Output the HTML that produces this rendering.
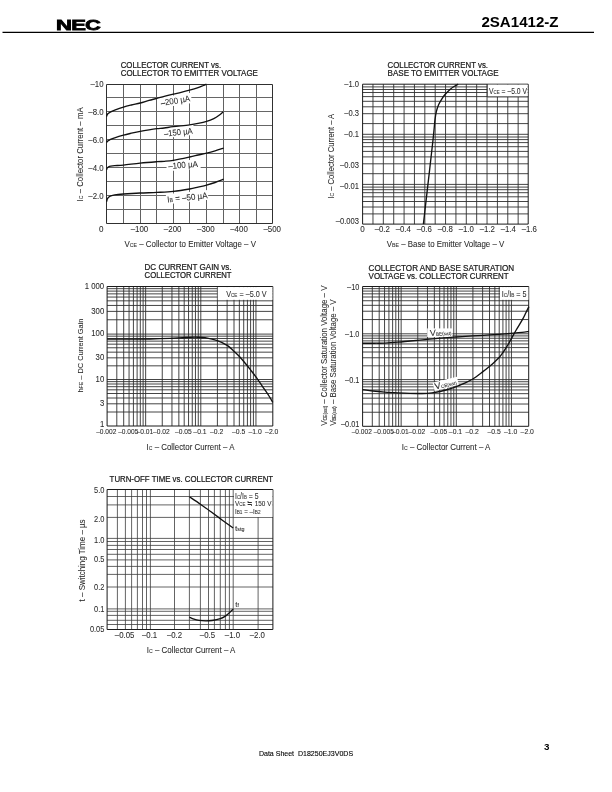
<!DOCTYPE html>
<html lang="en"><head><meta charset="utf-8"><title>2SA1412-Z Data Sheet</title>
<style>html,body{margin:0;padding:0;background:#fff}body{width:612px;height:792px;overflow:hidden;position:relative}svg{display:block;position:absolute;left:0;top:0}text{font-family:"Liberation Sans",sans-serif;white-space:pre}</style>
</head><body>
<svg width="612" height="792" viewBox="0 0 612 792">
<rect width="612" height="792" fill="#fff"/>
<text transform="translate(56.1,29.7) scale(1.47,1)" font-size="15" letter-spacing="-0.55" font-weight="bold" fill="#000" stroke="#000" stroke-width="0.75" stroke-linejoin="miter">NEC</text>
<text x="481.4" y="27" font-size="15" textLength="77.2" lengthAdjust="spacingAndGlyphs" font-weight="bold" fill="#000">2SA1412-Z</text>
<path d="M2.5 32.4H594" stroke="#000" stroke-width="1.1"/>
<text x="258.9" y="756" font-size="6.6" textLength="94.2" lengthAdjust="spacingAndGlyphs" fill="#000" stroke="#000" stroke-width="0.1">Data Sheet  D18250EJ3V0DS</text>
<text x="544.0" y="750" font-size="9.8" font-weight="bold" fill="#000">3</text>
<path d="M123.50 84.10V223.70M140.50 84.10V223.70M156.50 84.10V223.70M173.50 84.10V223.70M189.50 84.10V223.70M206.50 84.10V223.70M223.50 84.10V223.70M239.50 84.10V223.70M256.50 84.10V223.70" stroke="#444444" stroke-width="0.85" fill="none"/>
<path d="M106.90 97.50H272.80M106.90 111.50H272.80M106.90 125.50H272.80M106.90 139.50H272.80M106.90 153.50H272.80M106.90 167.50H272.80M106.90 181.50H272.80M106.90 195.50H272.80M106.90 209.50H272.80" stroke="#666666" stroke-width="1.15" fill="none"/>
<path d="M106.50 84.50H272.50V223.50H106.50Z" fill="none" stroke="#303030" stroke-width="1.0"/>
<text x="120.7" y="68" font-size="8.4" textLength="100.4" lengthAdjust="spacingAndGlyphs" fill="#1a1a1a" stroke="#1a1a1a" stroke-width="0.22">COLLECTOR CURRENT vs.</text>
<text x="120.7" y="76" font-size="8.4" textLength="137.2" lengthAdjust="spacingAndGlyphs" fill="#1a1a1a" stroke="#1a1a1a" stroke-width="0.22">COLLECTOR TO EMITTER VOLTAGE</text>
<text x="103.6" y="87" font-size="8.4" text-anchor="end" textLength="13.08" lengthAdjust="spacingAndGlyphs" fill="#2b2b2b" stroke="#2b2b2b" stroke-width="0.07">–10</text>
<text x="103.6" y="115" font-size="8.4" text-anchor="end" textLength="15.26" lengthAdjust="spacingAndGlyphs" fill="#2b2b2b" stroke="#2b2b2b" stroke-width="0.07">–8.0</text>
<text x="103.6" y="143" font-size="8.4" text-anchor="end" textLength="15.26" lengthAdjust="spacingAndGlyphs" fill="#2b2b2b" stroke="#2b2b2b" stroke-width="0.07">–6.0</text>
<text x="103.6" y="171" font-size="8.4" text-anchor="end" textLength="15.26" lengthAdjust="spacingAndGlyphs" fill="#2b2b2b" stroke="#2b2b2b" stroke-width="0.07">–4.0</text>
<text x="103.6" y="199" font-size="8.4" text-anchor="end" textLength="15.26" lengthAdjust="spacingAndGlyphs" fill="#2b2b2b" stroke="#2b2b2b" stroke-width="0.07">–2.0</text>
<text x="103.4" y="232" font-size="8.4" text-anchor="end" textLength="4.5" lengthAdjust="spacingAndGlyphs" fill="#2b2b2b" stroke="#2b2b2b" stroke-width="0.07">0</text>
<text x="139.48000000000002" y="232" font-size="8.4" text-anchor="middle" textLength="17.62" lengthAdjust="spacingAndGlyphs" fill="#2b2b2b" stroke="#2b2b2b" stroke-width="0.07">–100</text>
<text x="172.66" y="232" font-size="8.4" text-anchor="middle" textLength="17.62" lengthAdjust="spacingAndGlyphs" fill="#2b2b2b" stroke="#2b2b2b" stroke-width="0.07">–200</text>
<text x="205.84" y="232" font-size="8.4" text-anchor="middle" textLength="17.62" lengthAdjust="spacingAndGlyphs" fill="#2b2b2b" stroke="#2b2b2b" stroke-width="0.07">–300</text>
<text x="239.02" y="232" font-size="8.4" text-anchor="middle" textLength="17.62" lengthAdjust="spacingAndGlyphs" fill="#2b2b2b" stroke="#2b2b2b" stroke-width="0.07">–400</text>
<text x="272.2" y="232" font-size="8.4" text-anchor="middle" textLength="17.62" lengthAdjust="spacingAndGlyphs" fill="#2b2b2b" stroke="#2b2b2b" stroke-width="0.07">–500</text>
<text x="124.5" y="247" font-size="8.2" textLength="131.5" lengthAdjust="spacingAndGlyphs" fill="#2b2b2b" stroke="#2b2b2b" stroke-width="0.07">V<tspan font-size="5.4">CE</tspan> – Collector to Emitter Voltage – V</text>
<text x="83.4" y="201.4" font-size="8.2" textLength="94" lengthAdjust="spacingAndGlyphs" transform="rotate(-90 83.4 201.4)" fill="#2b2b2b" stroke="#2b2b2b" stroke-width="0.07">I<tspan font-size="5.4">C</tspan> – Collector Current – mA</text>
<rect x="160.00" y="95.20" width="31.60" height="10.40" fill="#fff" transform="rotate(-9 175.6 100.6)"/>
<rect x="163.00" y="126.00" width="31.00" height="10.60" fill="#fff" transform="rotate(-6.4 178.4 131.4)"/>
<rect x="166.40" y="160.40" width="34.00" height="9.60" fill="#fff" transform="rotate(-4.2 183.1 165.0)"/>
<rect x="166.20" y="192.00" width="42.00" height="10.00" fill="#fff" transform="rotate(-6 187.6 197.2)"/>
<path d="M106.60 116.40C106.77 116.00 107.07 114.68 107.60 114.00C108.13 113.32 108.62 112.93 109.80 112.30C110.98 111.67 112.42 111.07 114.70 110.20C116.98 109.33 120.72 107.97 123.50 107.10C126.28 106.23 128.62 105.68 131.40 105.00C134.18 104.32 137.27 103.77 140.20 103.00C143.13 102.23 146.22 101.17 149.00 100.40C151.78 99.63 154.37 99.08 156.90 98.40C159.43 97.72 161.47 97.02 164.20 96.30C166.93 95.58 170.48 94.75 173.30 94.10C176.12 93.45 178.38 93.05 181.10 92.40C183.82 91.75 186.77 91.00 189.60 90.20C192.43 89.40 195.80 88.38 198.10 87.60C200.40 86.82 202.02 86.07 203.40 85.50C204.78 84.93 205.90 84.42 206.40 84.20" stroke="#111" stroke-width="1.35" fill="none" stroke-linecap="butt" stroke-linejoin="round"/>
<path d="M106.60 142.40C106.80 142.17 107.27 141.43 107.80 141.00C108.33 140.57 108.65 140.33 109.80 139.80C110.95 139.27 112.42 138.58 114.70 137.80C116.98 137.02 120.72 135.87 123.50 135.10C126.28 134.33 128.62 133.83 131.40 133.20C134.18 132.57 137.27 131.87 140.20 131.30C143.13 130.73 146.22 130.23 149.00 129.80C151.78 129.37 154.37 129.00 156.90 128.70C159.43 128.40 161.47 128.33 164.20 128.00C166.93 127.67 169.07 127.23 173.30 126.70C177.53 126.17 185.47 125.35 189.60 124.80C193.73 124.25 195.27 123.97 198.10 123.40C200.93 122.83 203.98 122.20 206.60 121.40C209.22 120.60 211.72 119.62 213.80 118.60C215.88 117.58 217.53 116.43 219.10 115.30C220.67 114.17 222.52 112.38 223.20 111.80" stroke="#111" stroke-width="1.35" fill="none" stroke-linecap="butt" stroke-linejoin="round"/>
<path d="M106.60 169.80C106.70 169.50 106.87 168.50 107.20 168.00C107.53 167.50 108.00 167.12 108.60 166.80C109.20 166.48 109.78 166.30 110.80 166.10C111.82 165.90 112.58 165.77 114.70 165.60C116.82 165.43 119.25 165.52 123.50 165.10C127.75 164.68 134.63 163.67 140.20 163.10C145.77 162.53 152.90 162.00 156.90 161.70C160.90 161.40 161.47 161.53 164.20 161.30C166.93 161.07 169.07 161.02 173.30 160.30C177.53 159.58 185.47 157.88 189.60 157.00C193.73 156.12 195.27 155.65 198.10 155.00C200.93 154.35 203.77 153.80 206.60 153.10C209.43 152.40 212.27 151.63 215.10 150.80C217.93 149.97 222.18 148.55 223.60 148.10" stroke="#111" stroke-width="1.35" fill="none" stroke-linecap="butt" stroke-linejoin="round"/>
<path d="M106.60 201.60C106.72 201.17 106.97 199.73 107.30 199.00C107.63 198.27 108.02 197.73 108.60 197.20C109.18 196.67 109.78 196.20 110.80 195.80C111.82 195.40 112.58 195.10 114.70 194.80C116.82 194.50 119.25 194.30 123.50 194.00C127.75 193.70 134.63 193.27 140.20 193.00C145.77 192.73 151.38 192.67 156.90 192.40C162.42 192.13 167.85 191.97 173.30 191.40C178.75 190.83 185.47 189.72 189.60 189.00C193.73 188.28 195.27 187.75 198.10 187.10C200.93 186.45 203.77 185.87 206.60 185.10C209.43 184.33 212.27 183.48 215.10 182.50C217.93 181.52 222.18 179.75 223.60 179.20" stroke="#111" stroke-width="1.35" fill="none" stroke-linecap="butt" stroke-linejoin="round"/>
<text x="161.2" y="106.0" font-size="8.6" textLength="29.6" lengthAdjust="spacingAndGlyphs" transform="rotate(-9.2 161.2 106.0)" fill="#2b2b2b" stroke="#2b2b2b" stroke-width="0.07">–200 µA</text>
<text x="164.2" y="136.8" font-size="8.6" textLength="29.0" lengthAdjust="spacingAndGlyphs" transform="rotate(-6.4 164.2 136.8)" fill="#2b2b2b" stroke="#2b2b2b" stroke-width="0.07">–150 µA</text>
<text x="168.4" y="169.0" font-size="8.6" textLength="29.8" lengthAdjust="spacingAndGlyphs" transform="rotate(-4.2 168.4 169.0)" fill="#2b2b2b" stroke="#2b2b2b" stroke-width="0.07">–100 µA</text>
<text x="167.6" y="202.4" font-size="8.6" textLength="40.4" lengthAdjust="spacingAndGlyphs" transform="rotate(-6 167.6 202.4)" fill="#2b2b2b" stroke="#2b2b2b" stroke-width="0.07">I<tspan font-size="5.6">B</tspan> = –50 µA</text>
<path d="M372.97 84.20V224.10M383.34 84.20V224.10M393.71 84.20V224.10M404.08 84.20V224.10M414.45 84.20V224.10M424.82 84.20V224.10M435.19 84.20V224.10M445.56 84.20V224.10M455.93 84.20V224.10M466.30 84.20V224.10M476.67 84.20V224.10M487.04 84.20V224.10M497.41 84.20V224.10M507.78 84.20V224.10M518.15 84.20V224.10" stroke="#303030" stroke-width="0.9" fill="none"/>
<path d="M362.60 86.90H528.20M362.60 89.50H528.20M362.60 92.50H528.20M362.60 96.60H528.20M362.60 101.30H528.20M362.60 106.80H528.20M362.60 113.70H528.20M362.60 123.60H528.20M362.60 134.30H528.20M362.60 137.00H528.20M362.60 139.60H528.20M362.60 142.60H528.20M362.60 146.70H528.20M362.60 151.40H528.20M362.60 156.90H528.20M362.60 163.80H528.20M362.60 173.70H528.20M362.60 184.40H528.20M362.60 187.10H528.20M362.60 189.70H528.20M362.60 192.70H528.20M362.60 196.80H528.20M362.60 201.50H528.20M362.60 207.00H528.20M362.60 213.90H528.20" stroke="#303030" stroke-width="0.9" fill="none"/>
<path d="M362.60 84.20H528.20V224.10H362.60Z" fill="none" stroke="#1a1a1a" stroke-width="1.0"/>
<text x="387.6" y="68" font-size="8.4" textLength="100.4" lengthAdjust="spacingAndGlyphs" fill="#1a1a1a" stroke="#1a1a1a" stroke-width="0.22">COLLECTOR CURRENT vs.</text>
<text x="387.6" y="76" font-size="8.4" textLength="111" lengthAdjust="spacingAndGlyphs" fill="#1a1a1a" stroke="#1a1a1a" stroke-width="0.22">BASE TO EMITTER VOLTAGE</text>
<text x="359.0" y="87" font-size="8.4" text-anchor="end" textLength="14.79" lengthAdjust="spacingAndGlyphs" fill="#2b2b2b" stroke="#2b2b2b" stroke-width="0.07">–1.0</text>
<text x="359.0" y="116" font-size="8.4" text-anchor="end" textLength="14.79" lengthAdjust="spacingAndGlyphs" fill="#2b2b2b" stroke="#2b2b2b" stroke-width="0.07">–0.3</text>
<text x="359.0" y="137" font-size="8.4" text-anchor="end" textLength="14.79" lengthAdjust="spacingAndGlyphs" fill="#2b2b2b" stroke="#2b2b2b" stroke-width="0.07">–0.1</text>
<text x="359.0" y="168" font-size="8.4" text-anchor="end" textLength="19.02" lengthAdjust="spacingAndGlyphs" fill="#2b2b2b" stroke="#2b2b2b" stroke-width="0.07">–0.03</text>
<text x="359.0" y="189" font-size="8.4" text-anchor="end" textLength="19.02" lengthAdjust="spacingAndGlyphs" fill="#2b2b2b" stroke="#2b2b2b" stroke-width="0.07">–0.01</text>
<text x="359.0" y="224" font-size="8.4" text-anchor="end" textLength="23.25" lengthAdjust="spacingAndGlyphs" fill="#2b2b2b" stroke="#2b2b2b" stroke-width="0.07">–0.003</text>
<text x="362.4" y="232" font-size="8.4" text-anchor="middle" textLength="4.5" lengthAdjust="spacingAndGlyphs" fill="#2b2b2b" stroke="#2b2b2b" stroke-width="0.07">0</text>
<text x="382.3" y="232" font-size="8.4" text-anchor="middle" textLength="15.26" lengthAdjust="spacingAndGlyphs" fill="#2b2b2b" stroke="#2b2b2b" stroke-width="0.07">–0.2</text>
<text x="403.3" y="232" font-size="8.4" text-anchor="middle" textLength="15.26" lengthAdjust="spacingAndGlyphs" fill="#2b2b2b" stroke="#2b2b2b" stroke-width="0.07">–0.4</text>
<text x="424.30000000000007" y="232" font-size="8.4" text-anchor="middle" textLength="15.26" lengthAdjust="spacingAndGlyphs" fill="#2b2b2b" stroke="#2b2b2b" stroke-width="0.07">–0.6</text>
<text x="445.3" y="232" font-size="8.4" text-anchor="middle" textLength="15.26" lengthAdjust="spacingAndGlyphs" fill="#2b2b2b" stroke="#2b2b2b" stroke-width="0.07">–0.8</text>
<text x="466.3" y="232" font-size="8.4" text-anchor="middle" textLength="15.26" lengthAdjust="spacingAndGlyphs" fill="#2b2b2b" stroke="#2b2b2b" stroke-width="0.07">–1.0</text>
<text x="487.30000000000007" y="232" font-size="8.4" text-anchor="middle" textLength="15.26" lengthAdjust="spacingAndGlyphs" fill="#2b2b2b" stroke="#2b2b2b" stroke-width="0.07">–1.2</text>
<text x="508.30000000000007" y="232" font-size="8.4" text-anchor="middle" textLength="15.26" lengthAdjust="spacingAndGlyphs" fill="#2b2b2b" stroke="#2b2b2b" stroke-width="0.07">–1.4</text>
<text x="529.3000000000001" y="232" font-size="8.4" text-anchor="middle" textLength="15.26" lengthAdjust="spacingAndGlyphs" fill="#2b2b2b" stroke="#2b2b2b" stroke-width="0.07">–1.6</text>
<text x="386.8" y="247" font-size="8.2" textLength="117.5" lengthAdjust="spacingAndGlyphs" fill="#2b2b2b" stroke="#2b2b2b" stroke-width="0.07">V<tspan font-size="5.4">BE</tspan> – Base to Emitter Voltage – V</text>
<text x="333.8" y="198.6" font-size="8.2" textLength="84.8" lengthAdjust="spacingAndGlyphs" transform="rotate(-90 333.8 198.6)" fill="#2b2b2b" stroke="#2b2b2b" stroke-width="0.07">I<tspan font-size="5.4">C</tspan> – Collector Current – A</text>
<rect x="487.30" y="84.70" width="40.30" height="12.00" fill="#fff"/>
<path d="M487.3 84.2V96.9H528" stroke="#222" stroke-width="0.8" fill="none"/>
<text x="489.0" y="94" font-size="8.6" textLength="38" lengthAdjust="spacingAndGlyphs" fill="#2b2b2b" stroke="#2b2b2b" stroke-width="0.07">V<tspan font-size="5.6">CE</tspan> = –5.0 V</text>
<path d="M423.40 224.10C423.67 221.75 423.97 219.02 425.00 210.00C426.03 200.98 428.27 181.67 429.60 170.00C430.93 158.33 432.23 147.00 433.00 140.00C433.77 133.00 433.87 131.40 434.20 128.00C434.53 124.60 434.63 122.37 435.00 119.60C435.37 116.83 435.78 113.90 436.40 111.40C437.02 108.90 437.83 106.62 438.70 104.60C439.57 102.58 440.52 101.02 441.60 99.30C442.68 97.58 443.75 95.98 445.20 94.30C446.65 92.62 448.83 90.50 450.30 89.20C451.77 87.90 452.68 87.33 454.00 86.50C455.32 85.67 457.50 84.58 458.20 84.20" stroke="#111" stroke-width="1.35" fill="none" stroke-linecap="butt" stroke-linejoin="round"/>
<path d="M116.81 286.50V426.00M123.70 286.50V426.00M129.05 286.50V426.00M133.41 286.50V426.00M137.11 286.50V426.00M140.30 286.50V426.00M143.12 286.50V426.00M145.65 286.50V426.00M162.25 286.50V426.00M171.96 286.50V426.00M178.85 286.50V426.00M184.20 286.50V426.00M188.56 286.50V426.00M192.26 286.50V426.00M195.45 286.50V426.00M198.27 286.50V426.00M200.80 286.50V426.00M217.40 286.50V426.00M227.11 286.50V426.00M234.00 286.50V426.00M239.35 286.50V426.00M243.71 286.50V426.00M247.41 286.50V426.00M250.60 286.50V426.00M253.42 286.50V426.00M255.95 286.50V426.00" stroke="#303030" stroke-width="0.9" fill="none"/>
<path d="M107.10 412.00H272.80M107.10 403.81H272.80M107.10 398.00H272.80M107.10 393.50H272.80M107.10 389.82H272.80M107.10 386.70H272.80M107.10 384.01H272.80M107.10 381.63H272.80M107.10 379.50H272.80M107.10 365.83H272.80M107.10 357.84H272.80M107.10 352.17H272.80M107.10 347.77H272.80M107.10 344.17H272.80M107.10 341.13H272.80M107.10 338.50H272.80M107.10 336.18H272.80M107.10 334.10H272.80M107.10 319.77H272.80M107.10 311.39H272.80M107.10 305.44H272.80M107.10 300.83H272.80M107.10 297.06H272.80M107.10 293.87H272.80M107.10 291.11H272.80M107.10 288.68H272.80" stroke="#303030" stroke-width="0.9" fill="none"/>
<path d="M107.10 286.50H272.80V426.00H107.10Z" fill="none" stroke="#1a1a1a" stroke-width="1.0"/>
<text x="144.6" y="270" font-size="8.4" textLength="87" lengthAdjust="spacingAndGlyphs" fill="#1a1a1a" stroke="#1a1a1a" stroke-width="0.22">DC CURRENT GAIN vs.</text>
<text x="144.6" y="278" font-size="8.4" textLength="87" lengthAdjust="spacingAndGlyphs" fill="#1a1a1a" stroke="#1a1a1a" stroke-width="0.22">COLLECTOR CURRENT</text>
<text x="104.2" y="289" font-size="8.6" text-anchor="end" textLength="19.42" lengthAdjust="spacingAndGlyphs" fill="#2b2b2b" stroke="#2b2b2b" stroke-width="0.07">1 000</text>
<text x="104.2" y="314" font-size="8.6" text-anchor="end" textLength="12.95" lengthAdjust="spacingAndGlyphs" fill="#2b2b2b" stroke="#2b2b2b" stroke-width="0.07">300</text>
<text x="104.2" y="336" font-size="8.6" text-anchor="end" textLength="12.95" lengthAdjust="spacingAndGlyphs" fill="#2b2b2b" stroke="#2b2b2b" stroke-width="0.07">100</text>
<text x="104.2" y="360" font-size="8.6" text-anchor="end" textLength="8.63" lengthAdjust="spacingAndGlyphs" fill="#2b2b2b" stroke="#2b2b2b" stroke-width="0.07">30</text>
<text x="104.2" y="382" font-size="8.6" text-anchor="end" textLength="8.63" lengthAdjust="spacingAndGlyphs" fill="#2b2b2b" stroke="#2b2b2b" stroke-width="0.07">10</text>
<text x="104.2" y="406" font-size="8.6" text-anchor="end" textLength="4.32" lengthAdjust="spacingAndGlyphs" fill="#2b2b2b" stroke="#2b2b2b" stroke-width="0.07">3</text>
<text x="104.2" y="427" font-size="8.6" text-anchor="end" textLength="4.32" lengthAdjust="spacingAndGlyphs" fill="#2b2b2b" stroke="#2b2b2b" stroke-width="0.07">1</text>
<text x="106.3" y="434" font-size="7.9" text-anchor="middle" textLength="20.200000000000003" lengthAdjust="spacingAndGlyphs" fill="#2b2b2b" stroke="#2b2b2b" stroke-width="0.08">–0.002</text>
<text x="128.24639147826286" y="434" font-size="7.9" text-anchor="middle" textLength="20.200000000000003" lengthAdjust="spacingAndGlyphs" fill="#2b2b2b" stroke="#2b2b2b" stroke-width="0.08">–0.005</text>
<text x="144.84819573913143" y="434" font-size="7.9" text-anchor="middle" textLength="16.75" lengthAdjust="spacingAndGlyphs" fill="#2b2b2b" stroke="#2b2b2b" stroke-width="0.08">–0.01</text>
<text x="161.45" y="434" font-size="7.9" text-anchor="middle" textLength="16.75" lengthAdjust="spacingAndGlyphs" fill="#2b2b2b" stroke="#2b2b2b" stroke-width="0.08">–0.02</text>
<text x="183.39639147826284" y="434" font-size="7.9" text-anchor="middle" textLength="16.75" lengthAdjust="spacingAndGlyphs" fill="#2b2b2b" stroke="#2b2b2b" stroke-width="0.08">–0.05</text>
<text x="199.9981957391314" y="434" font-size="7.9" text-anchor="middle" textLength="13.3" lengthAdjust="spacingAndGlyphs" fill="#2b2b2b" stroke="#2b2b2b" stroke-width="0.08">–0.1</text>
<text x="216.59999999999997" y="434" font-size="7.9" text-anchor="middle" textLength="13.3" lengthAdjust="spacingAndGlyphs" fill="#2b2b2b" stroke="#2b2b2b" stroke-width="0.08">–0.2</text>
<text x="238.54639147826285" y="434" font-size="7.9" text-anchor="middle" textLength="13.3" lengthAdjust="spacingAndGlyphs" fill="#2b2b2b" stroke="#2b2b2b" stroke-width="0.08">–0.5</text>
<text x="255.1481957391314" y="434" font-size="7.9" text-anchor="middle" textLength="13.3" lengthAdjust="spacingAndGlyphs" fill="#2b2b2b" stroke="#2b2b2b" stroke-width="0.08">–1.0</text>
<text x="271.74999999999994" y="434" font-size="7.9" text-anchor="middle" textLength="13.3" lengthAdjust="spacingAndGlyphs" fill="#2b2b2b" stroke="#2b2b2b" stroke-width="0.08">–2.0</text>
<text x="146.6" y="450" font-size="8.4" textLength="87.8" lengthAdjust="spacingAndGlyphs" fill="#2b2b2b" stroke="#2b2b2b" stroke-width="0.07">I<tspan font-size="5.4">C</tspan> – Collector Current – A</text>
<text x="83.5" y="392.6" font-size="7.6" textLength="74" lengthAdjust="spacingAndGlyphs" transform="rotate(-90 83.5 392.6)" fill="#2b2b2b" stroke="#2b2b2b" stroke-width="0.07">h<tspan font-size="5.4">FE</tspan> – DC Current Gain</text>
<rect x="217.80" y="287.10" width="54.60" height="12.70" fill="#fff"/>
<text x="226.2" y="297" font-size="8.8" textLength="40.4" lengthAdjust="spacingAndGlyphs" fill="#2b2b2b" stroke="#2b2b2b" stroke-width="0.07">V<tspan font-size="5.6">CE</tspan> = –5.0 V</text>
<path d="M107.10 339.10C110.92 339.10 122.85 339.12 130.00 339.10C137.15 339.08 143.33 339.12 150.00 339.00C156.67 338.88 164.17 338.65 170.00 338.40C175.83 338.15 180.50 337.70 185.00 337.50C189.50 337.30 193.67 337.17 197.00 337.20C200.33 337.23 201.60 337.13 205.00 337.70C208.40 338.27 213.63 339.28 217.40 340.60C221.17 341.92 224.83 343.83 227.60 345.60C230.37 347.37 232.03 349.38 234.00 351.20C235.97 353.02 237.57 354.53 239.40 356.50C241.23 358.47 243.17 360.80 245.00 363.00C246.83 365.20 248.52 367.30 250.40 369.70C252.28 372.10 253.97 374.15 256.30 377.40C258.63 380.65 262.28 386.10 264.40 389.20C266.52 392.30 267.60 393.80 269.00 396.00C270.40 398.20 272.17 401.33 272.80 402.40" stroke="#111" stroke-width="1.35" fill="none" stroke-linecap="butt" stroke-linejoin="round"/>
<path d="M372.31 286.50V426.30M379.20 286.50V426.30M384.55 286.50V426.30M388.91 286.50V426.30M392.61 286.50V426.30M395.80 286.50V426.30M398.62 286.50V426.30M401.15 286.50V426.30M417.75 286.50V426.30M427.46 286.50V426.30M434.35 286.50V426.30M439.70 286.50V426.30M444.06 286.50V426.30M447.76 286.50V426.30M450.95 286.50V426.30M453.77 286.50V426.30M456.30 286.50V426.30M472.90 286.50V426.30M482.61 286.50V426.30M489.50 286.50V426.30M494.85 286.50V426.30M499.21 286.50V426.30M502.91 286.50V426.30M506.10 286.50V426.30M508.92 286.50V426.30M511.45 286.50V426.30" stroke="#303030" stroke-width="0.9" fill="none"/>
<path d="M362.60 412.24H528.70M362.60 404.02H528.70M362.60 398.18H528.70M362.60 393.66H528.70M362.60 389.96H528.70M362.60 386.83H528.70M362.60 384.13H528.70M362.60 381.74H528.70M362.60 379.60H528.70M362.60 365.81H528.70M362.60 357.75H528.70M362.60 352.03H528.70M362.60 347.59H528.70M362.60 343.96H528.70M362.60 340.89H528.70M362.60 338.24H528.70M362.60 335.90H528.70M362.60 333.80H528.70M362.60 319.56H528.70M362.60 311.23H528.70M362.60 305.32H528.70M362.60 300.74H528.70M362.60 296.99H528.70M362.60 293.83H528.70M362.60 291.08H528.70M362.60 288.66H528.70" stroke="#303030" stroke-width="0.9" fill="none"/>
<path d="M362.60 286.50H528.70V426.30H362.60Z" fill="none" stroke="#1a1a1a" stroke-width="1.0"/>
<text x="368.6" y="271" font-size="8.4" textLength="145.5" lengthAdjust="spacingAndGlyphs" fill="#1a1a1a" stroke="#1a1a1a" stroke-width="0.22">COLLECTOR AND BASE SATURATION</text>
<text x="368.6" y="279" font-size="8.4" textLength="140" lengthAdjust="spacingAndGlyphs" fill="#1a1a1a" stroke="#1a1a1a" stroke-width="0.22">VOLTAGE vs. COLLECTOR CURRENT</text>
<text x="359.4" y="290" font-size="8.4" text-anchor="end" textLength="12.28" lengthAdjust="spacingAndGlyphs" fill="#2b2b2b" stroke="#2b2b2b" stroke-width="0.07">–10</text>
<text x="359.4" y="337" font-size="8.4" text-anchor="end" textLength="14.32" lengthAdjust="spacingAndGlyphs" fill="#2b2b2b" stroke="#2b2b2b" stroke-width="0.07">–1.0</text>
<text x="359.4" y="383" font-size="8.4" text-anchor="end" textLength="14.32" lengthAdjust="spacingAndGlyphs" fill="#2b2b2b" stroke="#2b2b2b" stroke-width="0.07">–0.1</text>
<text x="359.4" y="427" font-size="8.4" text-anchor="end" textLength="18.42" lengthAdjust="spacingAndGlyphs" fill="#2b2b2b" stroke="#2b2b2b" stroke-width="0.07">–0.01</text>
<text x="361.8" y="434" font-size="7.9" text-anchor="middle" textLength="20.200000000000003" lengthAdjust="spacingAndGlyphs" fill="#2b2b2b" stroke="#2b2b2b" stroke-width="0.08">–0.002</text>
<text x="383.74639147826286" y="434" font-size="7.9" text-anchor="middle" textLength="20.200000000000003" lengthAdjust="spacingAndGlyphs" fill="#2b2b2b" stroke="#2b2b2b" stroke-width="0.08">–0.005</text>
<text x="400.3481957391314" y="434" font-size="7.9" text-anchor="middle" textLength="16.75" lengthAdjust="spacingAndGlyphs" fill="#2b2b2b" stroke="#2b2b2b" stroke-width="0.08">–0.01</text>
<text x="416.95" y="434" font-size="7.9" text-anchor="middle" textLength="16.75" lengthAdjust="spacingAndGlyphs" fill="#2b2b2b" stroke="#2b2b2b" stroke-width="0.08">–0.02</text>
<text x="438.8963914782629" y="434" font-size="7.9" text-anchor="middle" textLength="16.75" lengthAdjust="spacingAndGlyphs" fill="#2b2b2b" stroke="#2b2b2b" stroke-width="0.08">–0.05</text>
<text x="455.49819573913146" y="434" font-size="7.9" text-anchor="middle" textLength="13.3" lengthAdjust="spacingAndGlyphs" fill="#2b2b2b" stroke="#2b2b2b" stroke-width="0.08">–0.1</text>
<text x="472.1" y="434" font-size="7.9" text-anchor="middle" textLength="13.3" lengthAdjust="spacingAndGlyphs" fill="#2b2b2b" stroke="#2b2b2b" stroke-width="0.08">–0.2</text>
<text x="494.0463914782629" y="434" font-size="7.9" text-anchor="middle" textLength="13.3" lengthAdjust="spacingAndGlyphs" fill="#2b2b2b" stroke="#2b2b2b" stroke-width="0.08">–0.5</text>
<text x="510.64819573913144" y="434" font-size="7.9" text-anchor="middle" textLength="13.3" lengthAdjust="spacingAndGlyphs" fill="#2b2b2b" stroke="#2b2b2b" stroke-width="0.08">–1.0</text>
<text x="527.25" y="434" font-size="7.9" text-anchor="middle" textLength="13.3" lengthAdjust="spacingAndGlyphs" fill="#2b2b2b" stroke="#2b2b2b" stroke-width="0.08">–2.0</text>
<text x="401.8" y="450" font-size="8.4" textLength="88.6" lengthAdjust="spacingAndGlyphs" fill="#2b2b2b" stroke="#2b2b2b" stroke-width="0.07">I<tspan font-size="5.4">C</tspan> – Collector Current – A</text>
<text x="327.3" y="425.8" font-size="8.4" textLength="140.2" lengthAdjust="spacingAndGlyphs" transform="rotate(-90 327.3 425.8)" fill="#2b2b2b" stroke="#2b2b2b" stroke-width="0.07">V<tspan font-size="4.6">CE(sat)</tspan> – Collector Saturation Voltage – V</text>
<text x="336.5" y="425.8" font-size="8.4" textLength="126.4" lengthAdjust="spacingAndGlyphs" transform="rotate(-90 336.5 425.8)" fill="#2b2b2b" stroke="#2b2b2b" stroke-width="0.07">V<tspan font-size="4.6">BE(sat)</tspan> – Base Saturation Voltage – V</text>
<rect x="500.00" y="287.10" width="28.40" height="12.70" fill="#fff"/>
<text x="501.8" y="297" font-size="9.0" textLength="24.8" lengthAdjust="spacingAndGlyphs" fill="#2b2b2b" stroke="#2b2b2b" stroke-width="0.07">I<tspan font-size="5.8">C</tspan>/I<tspan font-size="5.8">B</tspan> = 5</text>
<rect x="427.20" y="328.40" width="25.20" height="8.60" fill="#fff"/>
<rect x="433.30" y="379.60" width="25.00" height="8.40" fill="#fff" transform="rotate(-14 446 384)"/>
<path d="M362.60 343.20C364.67 343.20 371.32 343.22 375.00 343.20C378.68 343.18 380.87 343.27 384.70 343.10C388.53 342.93 393.78 342.55 398.00 342.20C402.22 341.85 405.50 341.43 410.00 341.00C414.50 340.57 420.00 340.07 425.00 339.60C430.00 339.13 434.83 338.63 440.00 338.20C445.17 337.77 450.60 337.38 456.00 337.00C461.40 336.62 467.40 336.20 472.40 335.90C477.40 335.60 481.60 335.45 486.00 335.20C490.40 334.95 494.22 334.73 498.80 334.40C503.38 334.07 509.63 333.53 513.50 333.20C517.37 332.87 519.43 332.68 522.00 332.40C524.57 332.12 527.75 331.65 528.90 331.50" stroke="#111" stroke-width="1.35" fill="none" stroke-linecap="butt" stroke-linejoin="round"/>
<path d="M362.60 389.60C364.33 389.83 369.32 390.58 373.00 391.00C376.68 391.42 380.53 391.78 384.70 392.10C388.87 392.42 393.78 392.68 398.00 392.90C402.22 393.12 406.00 393.30 410.00 393.40C414.00 393.50 418.33 393.60 422.00 393.50C425.67 393.40 429.00 393.13 432.00 392.80C435.00 392.47 437.68 391.97 440.00 391.50C442.32 391.03 443.20 390.82 445.90 390.00C448.60 389.18 453.18 387.70 456.20 386.60C459.22 385.50 461.30 384.62 464.00 383.40C466.70 382.18 469.30 381.22 472.40 379.30C475.50 377.38 479.67 374.12 482.60 371.90C485.53 369.68 487.93 367.73 490.00 366.00C492.07 364.27 493.40 363.00 495.00 361.50C496.60 360.00 498.27 358.50 499.60 357.00C500.93 355.50 501.90 354.07 503.00 352.50C504.10 350.93 505.20 349.18 506.20 347.60C507.20 346.02 508.15 344.47 509.00 343.00C509.85 341.53 510.10 340.97 511.30 338.80C512.50 336.63 514.35 333.18 516.20 330.00C518.05 326.82 520.77 322.62 522.40 319.70C524.03 316.78 524.92 314.68 526.00 312.50C527.08 310.32 528.42 307.58 528.90 306.60" stroke="#111" stroke-width="1.35" fill="none" stroke-linecap="butt" stroke-linejoin="round"/>
<text x="430.0" y="336.0" font-size="8.8" textLength="21.6" lengthAdjust="spacingAndGlyphs" transform="rotate(-3 430.0 336.0)" fill="#2b2b2b" stroke="#2b2b2b" stroke-width="0.07">V<tspan font-size="4.6">BE(sat)</tspan></text>
<text x="435.6" y="389.6" font-size="8.8" textLength="22.0" lengthAdjust="spacingAndGlyphs" transform="rotate(-14 435.6 389.6)" fill="#2b2b2b" stroke="#2b2b2b" stroke-width="0.07">V<tspan font-size="4.6">CE(sat)</tspan></text>
<path d="M117.40 489.50V629.50M125.40 489.50V629.50M131.60 489.50V629.50M137.40 489.50V629.50M142.50 489.50V629.50M146.50 489.50V629.50M150.40 489.50V629.50M174.50 489.50V629.50M189.40 489.50V629.50M200.40 489.50V629.50M208.50 489.50V629.50M214.40 489.50V629.50M220.30 489.50V629.50M225.40 489.50V629.50M229.40 489.50V629.50M233.20 489.50V629.50M258.10 489.50V629.50" stroke="#3c3c3c" stroke-width="0.8" fill="none"/>
<path d="M107.10 496.50H272.90M107.10 504.90H272.90M107.10 517.40H272.90M107.10 538.40H272.90M107.10 541.50H272.90M107.10 545.40H272.90M107.10 549.50H272.90M107.10 554.30H272.90M107.10 559.90H272.90M107.10 566.40H272.90M107.10 574.40H272.90M107.10 587.00H272.90M107.10 608.90H272.90M107.10 611.30H272.90M107.10 615.40H272.90M107.10 620.30H272.90M107.10 624.50H272.90" stroke="#3c3c3c" stroke-width="0.8" fill="none"/>
<path d="M107.10 489.50H272.90V629.50H107.10Z" fill="none" stroke="#1a1a1a" stroke-width="1.0"/>
<text x="109.6" y="482" font-size="8.4" textLength="163.5" lengthAdjust="spacingAndGlyphs" fill="#1a1a1a" stroke="#1a1a1a" stroke-width="0.22">TURN-OFF TIME vs. COLLECTOR CURRENT</text>
<text x="104.4" y="493" font-size="9.0" text-anchor="end" textLength="10.34" lengthAdjust="spacingAndGlyphs" fill="#2b2b2b" stroke="#2b2b2b" stroke-width="0.07">5.0</text>
<text x="104.4" y="522" font-size="9.0" text-anchor="end" textLength="10.34" lengthAdjust="spacingAndGlyphs" fill="#2b2b2b" stroke="#2b2b2b" stroke-width="0.07">2.0</text>
<text x="104.4" y="543" font-size="9.0" text-anchor="end" textLength="10.34" lengthAdjust="spacingAndGlyphs" fill="#2b2b2b" stroke="#2b2b2b" stroke-width="0.07">1.0</text>
<text x="104.4" y="562" font-size="9.0" text-anchor="end" textLength="10.34" lengthAdjust="spacingAndGlyphs" fill="#2b2b2b" stroke="#2b2b2b" stroke-width="0.07">0.5</text>
<text x="104.4" y="590" font-size="9.0" text-anchor="end" textLength="10.34" lengthAdjust="spacingAndGlyphs" fill="#2b2b2b" stroke="#2b2b2b" stroke-width="0.07">0.2</text>
<text x="104.4" y="612" font-size="9.0" text-anchor="end" textLength="10.34" lengthAdjust="spacingAndGlyphs" fill="#2b2b2b" stroke="#2b2b2b" stroke-width="0.07">0.1</text>
<text x="104.4" y="632" font-size="9.0" text-anchor="end" textLength="14.48" lengthAdjust="spacingAndGlyphs" fill="#2b2b2b" stroke="#2b2b2b" stroke-width="0.07">0.05</text>
<text x="124.67471635902237" y="638" font-size="8.2" text-anchor="middle" textLength="19.62" lengthAdjust="spacingAndGlyphs" fill="#2b2b2b" stroke="#2b2b2b" stroke-width="0.07">–0.05</text>
<text x="149.6" y="638" font-size="8.2" text-anchor="middle" textLength="15.26" lengthAdjust="spacingAndGlyphs" fill="#2b2b2b" stroke="#2b2b2b" stroke-width="0.07">–0.1</text>
<text x="174.52528364097765" y="638" font-size="8.2" text-anchor="middle" textLength="15.26" lengthAdjust="spacingAndGlyphs" fill="#2b2b2b" stroke="#2b2b2b" stroke-width="0.07">–0.2</text>
<text x="207.47471635902235" y="638" font-size="8.2" text-anchor="middle" textLength="15.26" lengthAdjust="spacingAndGlyphs" fill="#2b2b2b" stroke="#2b2b2b" stroke-width="0.07">–0.5</text>
<text x="232.39999999999998" y="638" font-size="8.2" text-anchor="middle" textLength="15.26" lengthAdjust="spacingAndGlyphs" fill="#2b2b2b" stroke="#2b2b2b" stroke-width="0.07">–1.0</text>
<text x="257.32528364097766" y="638" font-size="8.2" text-anchor="middle" textLength="15.26" lengthAdjust="spacingAndGlyphs" fill="#2b2b2b" stroke="#2b2b2b" stroke-width="0.07">–2.0</text>
<text x="146.8" y="653" font-size="8.4" textLength="88.6" lengthAdjust="spacingAndGlyphs" fill="#2b2b2b" stroke="#2b2b2b" stroke-width="0.07">I<tspan font-size="5.4">C</tspan> – Collector Current – A</text>
<text x="84.8" y="601.4" font-size="8.6" textLength="82" lengthAdjust="spacingAndGlyphs" transform="rotate(-90 84.8 601.4)" fill="#2b2b2b" stroke="#2b2b2b" stroke-width="0.07">t – Switching Time – µs</text>
<rect x="234.00" y="490.00" width="38.40" height="27.00" fill="#fff"/>
<text x="235.0" y="499" font-size="8.6" textLength="23.5" lengthAdjust="spacingAndGlyphs" fill="#2b2b2b" stroke="#2b2b2b" stroke-width="0.07">I<tspan font-size="5.4">C</tspan>/I<tspan font-size="5.4">B</tspan> = 5</text>
<text x="235.0" y="506" font-size="7.8" textLength="36.4" lengthAdjust="spacingAndGlyphs" fill="#2b2b2b" stroke="#2b2b2b" stroke-width="0.07">V<tspan font-size="5.4">CE</tspan> ≒ 150 V</text>
<text x="235.0" y="514" font-size="7.2" textLength="25.5" lengthAdjust="spacingAndGlyphs" fill="#2b2b2b" stroke="#2b2b2b" stroke-width="0.07">I<tspan font-size="5.4">B1</tspan> = –I<tspan font-size="5.4">B2</tspan></text>
<path d="M189.40 496.80C191.23 498.03 196.80 501.70 200.40 504.20C204.00 506.70 207.40 509.18 211.00 511.80C214.60 514.42 218.30 517.18 222.00 519.90C225.70 522.62 231.33 526.73 233.20 528.10" stroke="#111" stroke-width="1.3" fill="none" stroke-linecap="butt" stroke-linejoin="round"/>
<path d="M189.40 617.20C190.17 617.53 192.40 618.67 194.00 619.20C195.60 619.73 197.07 620.12 199.00 620.40C200.93 620.68 203.43 620.88 205.60 620.90C207.77 620.92 209.55 620.87 212.00 620.50C214.45 620.13 218.13 619.38 220.30 618.70C222.47 618.02 223.53 617.35 225.00 616.40C226.47 615.45 227.73 614.22 229.10 613.00C230.47 611.78 232.52 609.75 233.20 609.10" stroke="#111" stroke-width="1.3" fill="none" stroke-linecap="butt" stroke-linejoin="round"/>
<text x="235.0" y="531" font-size="7.2" textLength="9.5" lengthAdjust="spacingAndGlyphs" fill="#2b2b2b" stroke="#2b2b2b" stroke-width="0.07">t<tspan font-size="4.6">stg</tspan></text>
<text x="235.2" y="607" font-size="7.2" textLength="3.6" lengthAdjust="spacingAndGlyphs" fill="#2b2b2b" stroke="#2b2b2b" stroke-width="0.07">t<tspan font-size="4.6">f</tspan></text>
</svg>
</body></html>
